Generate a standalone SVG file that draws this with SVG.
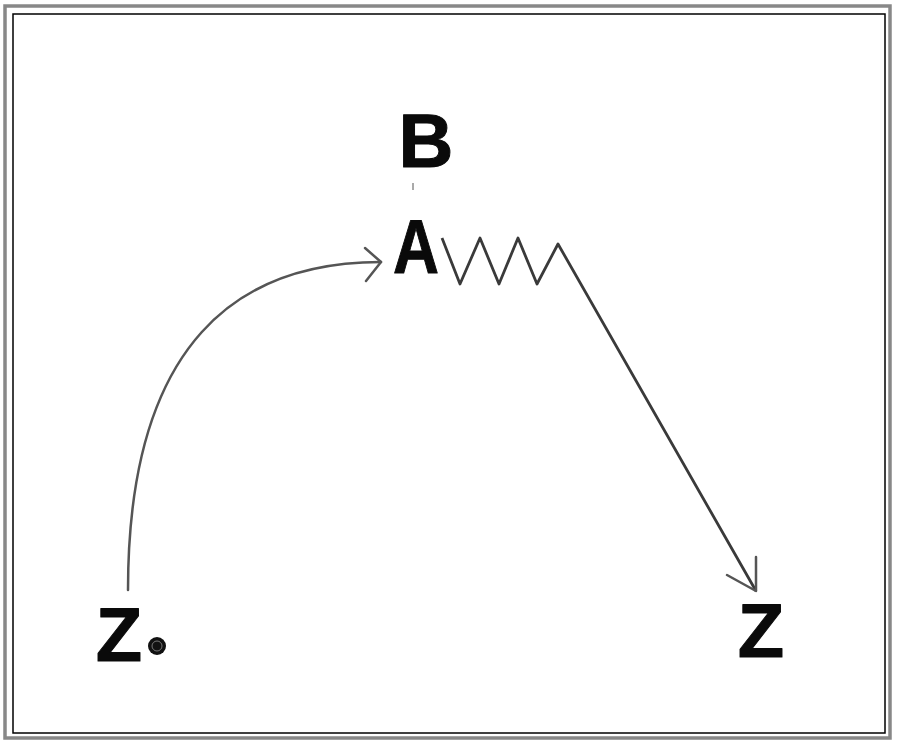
<svg xmlns="http://www.w3.org/2000/svg" width="900" height="748" viewBox="0 0 900 748">
<style>
.lbl{font-family:"Liberation Sans",Arial,sans-serif;font-weight:bold;font-size:76px;fill:#0a0a0a;stroke:#0a0a0a;stroke-width:1;stroke-linejoin:round;text-anchor:middle}
.edge{fill:none;stroke:#555;stroke-width:2.5;stroke-linecap:round;stroke-linejoin:round}
.snake{fill:none;stroke:#3a3a3a;stroke-width:2.8;stroke-linejoin:round}
</style>
<rect width="900" height="748" fill="#ffffff"/>
<g id="frame">
<rect x="5" y="6" width="885" height="732" fill="none" stroke="#888" stroke-width="3.5"/>
<rect x="13" y="14" width="872" height="719" fill="none" stroke="#000" stroke-width="1.5"/>
</g>
<g id="connectors">
<path class="edge" d="M128,590 C128,340 240,262 381,262"/>
<path class="edge" d="M365,248 L381,262 L366,281"/>
<path class="snake" d="M442,238 L460,284 L480,238 L499,284 L518,238 L537,284 L558,244 L756,591"/>
<path class="edge" d="M756,557 L756,591 L727,575"/>
<line x1="413" y1="183" x2="413" y2="190" stroke="#555" stroke-width="1"/>
</g>
<g id="node-B"><text class="lbl" x="426" y="167">B</text></g>
<g id="node-A"><text class="lbl" x="393" y="273" text-anchor="start" style="text-anchor:start" textLength="46" lengthAdjust="spacingAndGlyphs">A</text></g>
<g id="node-Z1"><text class="lbl" x="119" y="661">Z</text>
<circle cx="157" cy="646" r="9" fill="#111"/>
<circle cx="157" cy="646" r="5" fill="none" stroke="#777" stroke-width="1"/></g>
<g id="node-Z2"><text class="lbl" x="761" y="657">Z</text></g>
</svg>
